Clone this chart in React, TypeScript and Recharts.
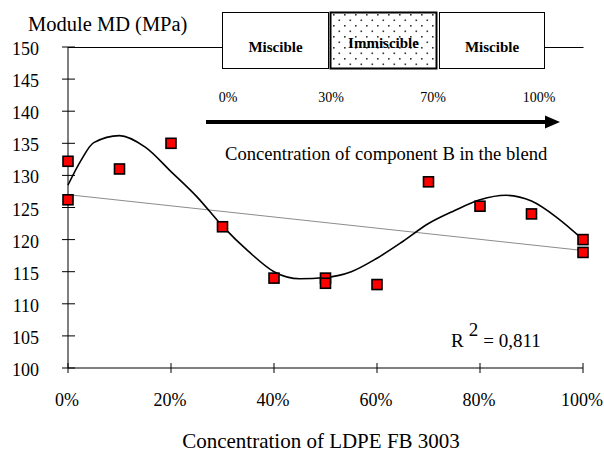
import React from 'react';
import { ComposedChart, Line, Scatter, XAxis, YAxis, Customized } from 'recharts';

const xTicks = [0, 20, 40, 60, 80, 100];
const yTicks = [100, 105, 110, 115, 120, 125, 130, 135, 140, 145, 150];

const measuredX = [0, 0, 10, 20, 30, 40, 50, 50, 60, 70, 80, 90, 100, 100];
const measuredY = [132.2, 126.2, 131, 135, 122, 114, 114, 113.2, 113, 129, 125.2, 124, 120, 118];

const fitX = [0, 2.5, 5, 10, 15, 20, 25, 30, 35, 40, 45, 50, 55, 60, 65, 70, 75, 80, 85, 90, 95, 100];
const fitY = [128.5, 132.3, 135.1, 136.2, 134.4, 130.6, 126.7, 122.1, 118.2, 115, 113.9, 114.1, 115, 117.1, 119.7, 122.5, 124.5, 126.2, 126.9, 126, 123.4, 120];

const trendX = [0, 100];
const trendY = [127, 118.3];

const phaseLabels = ['Miscible', 'Immiscible', 'Miscible'];
const phaseTicks = ['0%', '30%', '70%', '100%'];

const yTitle = 'Module MD (MPa)';
const xTitle = 'Concentration of LDPE FB 3003';
const arrowTitle = 'Concentration of component B in the blend';
const r2Value = '= 0,811';

const FONT = '"Liberation Serif", "Times New Roman", Times, serif';

const measured = measuredX.map((x, i) => ({ x, y: measuredY[i] }));
const fit = fitX.map((x, i) => ({ x, fit: fitY[i] }));
const trend = trendX.map((x, i) => ({ x, trend: trendY[i] }));

const XTick = (props: any) => {
  const { x, y, payload } = props;
  return (
    <g>
      <line x1={x} x2={x} y1={y - 5} y2={y + 5} stroke="#000" strokeWidth={1} />
      <text x={x - 1} y={y + 38} textAnchor="middle" style={{ fontFamily: FONT }} fontSize={18} fill="#000">
        {`${payload.value}%`}
      </text>
    </g>
  );
};

const YTick = (props: any) => {
  const { x, y, payload } = props;
  return (
    <g>
      <line x1={x - 6} x2={x + 7} y1={y} y2={y} stroke="#000" strokeWidth={1} />
      <text x={x - 29} y={y + 8} textAnchor="end" style={{ fontFamily: FONT }} fontSize={18} fill="#000">
        {payload.value}
      </text>
    </g>
  );
};

const Square = (props: any) => {
  const { cx, cy } = props;
  if (cx == null || cy == null) return null;
  return <rect x={cx - 5} y={cy - 5} width={10} height={10} fill="#ff0000" stroke="#000" strokeWidth={1.6} />;
};

const Annotations = () => {
  const boxes = [
    { x: 222.5, w: 106 },
    { x: 330.5, w: 106 },
    { x: 439.5, w: 105 },
  ];
  const tickXs = [228, 331, 433, 539];
  return (
    <g style={{ fontFamily: FONT }}>
      <defs>
        <pattern id="dots" width="11" height="11" patternUnits="userSpaceOnUse" x="333" y="14">
          <rect x="0" y="0" width="1.6" height="1.6" fill="#333" />
          <rect x="5.5" y="5.5" width="1.6" height="1.6" fill="#333" />
        </pattern>
      </defs>
      <line x1={68} x2={222.5} y1={47.5} y2={47.5} stroke="#000" strokeWidth={1} />
      <line x1={544.5} x2={583.5} y1={47.5} y2={47.5} stroke="#000" strokeWidth={1} />
      {boxes.map((b, i) => (
        <g key={i}>
          <rect x={b.x} y={12.5} width={b.w} height={56} fill="#fff" stroke="none" />
          {i === 1 && <rect x={b.x} y={12.5} width={b.w} height={56} fill="url(#dots)" stroke="none" />}
          <rect
            x={b.x}
            y={12.5}
            width={b.w}
            height={56}
            fill="none"
            stroke="#000"
            strokeWidth={i === 1 ? 2 : 1}
          />
          <text
            x={b.x + b.w / 2}
            y={i === 1 ? 48 : 52}
            textAnchor="middle"
            fontSize={15}
            fontWeight="bold"
            fill="#000"
          >
            {phaseLabels[i]}
          </text>
        </g>
      ))}
      {phaseTicks.map((t, i) => (
        <text key={t} x={tickXs[i]} y={102} textAnchor="middle" fontSize={14} fill="#000">
          {t}
        </text>
      ))}
      <line x1={206} x2={546} y1={122} y2={122} stroke="#000" strokeWidth={4} />
      <polygon points="545,115.5 560,122 545,128.5" fill="#000" />
      <text x={225} y={160} fontSize={18.6} fill="#000">
        {arrowTitle}
      </text>
      <text x={451} y={347} fontSize={19} fill="#000">
        R
        <tspan dx={5} dy={-11}>2</tspan>
        <tspan dx={5} dy={11}>{r2Value}</tspan>
      </text>
      <text x={28} y={30.5} fontSize={20.5} fill="#000">
        {yTitle}
      </text>
      <text x={321} y={448} textAnchor="middle" fontSize={21} fill="#000">
        {xTitle}
      </text>
    </g>
  );
};

export default function App() {
  return (
    <div style={{ position: 'absolute', left: 0, top: 0, width: 604, height: 456, background: '#fff', fontFamily: FONT }}>
      <ComposedChart
        width={604}
        height={456}
        data={fit}
        margin={{ top: 47, right: 21, bottom: 0, left: 0 }}
        style={{ fontFamily: FONT }}
      >
        <XAxis
          dataKey="x"
          type="number"
          domain={[0, 100]}
          ticks={xTicks}
          interval={0}
          height={88}
          tickSize={0}
          tickMargin={0}
          tickLine={false}
          axisLine={{ stroke: '#000', strokeWidth: 1 }}
          tick={<XTick />}
        />
        <YAxis
          type="number"
          domain={[100, 150]}
          ticks={yTicks}
          interval={0}
          width={68}
          tickSize={0}
          tickMargin={0}
          tickLine={false}
          axisLine={{ stroke: '#000', strokeWidth: 1 }}
          tick={<YTick />}
        />
        <YAxis
          yAxisId="r"
          orientation="right"
          type="number"
          domain={[100, 150]}
          width={0}
          tick={false}
          tickLine={false}
          axisLine={{ stroke: '#000', strokeWidth: 1 }}
        />
        <Line
          data={trend}
          dataKey="trend"
          type="linear"
          stroke="#8c8c8c"
          strokeWidth={1}
          dot={false}
          activeDot={false}
          isAnimationActive={false}
        />
        <Line
          dataKey="fit"
          type="monotone"
          stroke="#000"
          strokeWidth={1.6}
          dot={false}
          activeDot={false}
          isAnimationActive={false}
        />
        <Scatter data={measured} dataKey="y" shape={<Square />} isAnimationActive={false} />
        <Customized component={Annotations} />
      </ComposedChart>
    </div>
  );
}
